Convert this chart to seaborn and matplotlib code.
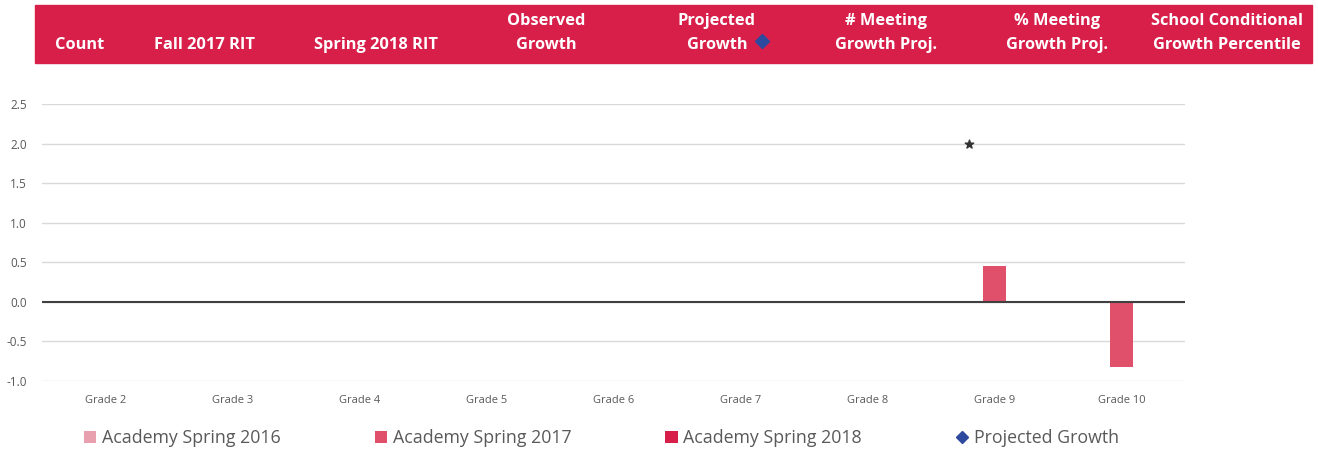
import numpy as np
import pandas as pd
import matplotlib
matplotlib.use("Agg")
import matplotlib.pyplot as plt
from matplotlib.patches import Rectangle, Patch
from matplotlib.lines import Line2D
from matplotlib.transforms import offset_copy
import seaborn as sns

# ---------------- data ----------------
grades = ["Grade 2", "Grade 3", "Grade 4", "Grade 5", "Grade 6",
          "Grade 7", "Grade 8", "Grade 9", "Grade 10"]
series = ["Academy Spring 2016", "Academy Spring 2017", "Academy Spring 2018"]
spring_2016 = [np.nan] * 9
spring_2017 = [np.nan, np.nan, np.nan, np.nan, np.nan, np.nan, np.nan, 0.45, -0.82]
spring_2018 = [np.nan] * 9
projected_growth = [np.nan] * 9
star_grade = ["Grade 9"]
star_value = [2.0]
yticks = [-1.0, -0.5, 0.0, 0.5, 1.0, 1.5, 2.0, 2.5]
header_labels = ["Count", "Fall 2017 RIT", "Spring 2018 RIT", "Observed\nGrowth",
                 "Projected\nGrowth", "# Meeting\nGrowth Proj.",
                 "% Meeting\nGrowth Proj.", "School Conditional\nGrowth Percentile"]

# ---------------- style ----------------
colors = {"Academy Spring 2016": "#E8A0AE",
          "Academy Spring 2017": "#E0506B",
          "Academy Spring 2018": "#D81F4A"}
diamond_color = "#2E4A9E"
header_color = "#D81F4A"
text_gray = "#595959"

sns.set_theme(style="white")
plt.rcParams["font.family"] = ["Open Sans", "DejaVu Sans"]

W, H = 1318, 449
fig = plt.figure(figsize=(W / 100, H / 100), dpi=100)

df = pd.DataFrame({
    "grade": grades * 3,
    "series": sum([[s] * 9 for s in series], []),
    "value": spring_2016 + spring_2017 + spring_2018,
})

ax = fig.add_axes([42 / W, 1 - 381 / H, (1185 - 42) / W, (381 - 104) / H])
bar_width = 0.52
sns.barplot(data=df, x="grade", y="value", hue="series", order=grades,
            hue_order=series, palette=colors, width=bar_width, dodge=True,
            saturation=1, errorbar=None, legend=False, linewidth=0, ax=ax)

# projected growth diamonds (none present in the picture)
proj = [(g, v) for g, v in zip(grades, projected_growth) if not np.isnan(v)]
if proj:
    ax.scatter([p[0] for p in proj], [p[1] for p in proj], marker="D",
               color=diamond_color, s=30, zorder=4)
# star marker, sitting left of the category centre
star_tr = offset_copy(ax.transData, fig=fig, x=-26, y=0, units="dots")
ax.scatter(star_grade, star_value, marker="*", color="#333333", s=40, zorder=5,
           transform=star_tr)

ax.set_xlim(-0.5, len(grades) - 0.5)
ax.set_ylim(-1.0, 2.5)
ax.set_yticks(yticks)
ax.set_yticklabels([f"{v:.1f}" for v in yticks])
ax.yaxis.grid(True, color="#D9D9D9", linewidth=1)
ax.set_axisbelow(True)
ax.axhline(0, color="#404040", linewidth=1.5, zorder=3)
for s in ax.spines.values():
    s.set_visible(False)
ax.set_xlabel("")
ax.set_ylabel("")
ax.tick_params(axis="x", labelsize=8, colors=text_gray, length=0, pad=10)
ax.tick_params(axis="y", labelsize=8.5, colors=text_gray, length=0, pad=11)

# ---------------- header band ----------------
fig.patches.append(Rectangle((35 / W, 1 - 63 / H), (1312 - 35) / W, 58 / H,
                             transform=fig.transFigure, color=header_color, zorder=0))
header_x = [80, 205, 376, 546, 717, 886, 1057, 1227]
for x, lbl in zip(header_x, header_labels):
    fig.text(x / W, 1 - 49 / H, lbl, ha="center", va="baseline", color="white",
             fontsize=11.8, fontweight="bold", linespacing=1.7)
fig.add_artist(Line2D([762 / W], [1 - 41 / H], marker="D", markersize=7.5,
                      color=diamond_color, transform=fig.transFigure))

# ---------------- legend ----------------
handles = [Patch(facecolor=colors[s], edgecolor="none") for s in series]
handles.append(Line2D([], [], marker="D", color=diamond_color, linestyle="none",
                      markersize=6))
labels = series + ["Projected Growth"]
leg = fig.legend(handles, labels, loc="center left", bbox_to_anchor=(84 / W, 1 - 438 / H),
                 ncol=4, frameon=False, fontsize=12.8, handlelength=0.7,
                 handleheight=0.7, handletextpad=0.3, columnspacing=5.3,
                 borderaxespad=0, borderpad=0)
for t in leg.get_texts():
    t.set_color(text_gray)

fig.savefig("out.png", dpi=100)
